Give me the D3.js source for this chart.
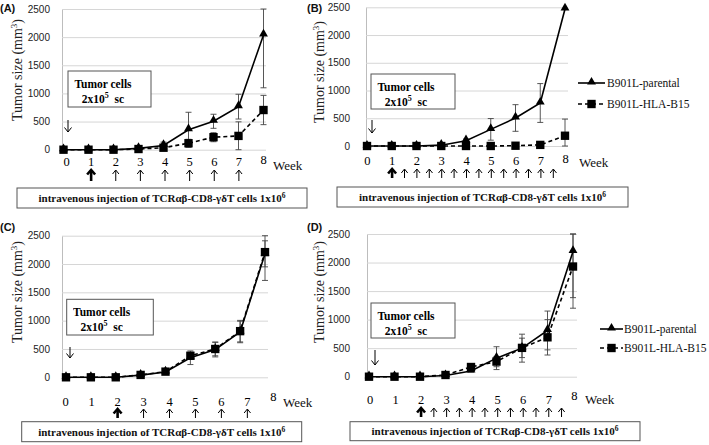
<!DOCTYPE html>
<html>
<head>
<meta charset="utf-8">
<script src="https://cdn.jsdelivr.net/npm/d3@7"></script>
<style>
body { margin: 0; background: #fff; }
svg { display: block; }
svg text { opacity: 0.999; }
</style>
</head>
<body>
<svg id="chart" width="709" height="445"></svg>
<script>
// ---- data ----
const weeks = [0, 1, 2, 3, 4, 5, 6, 7, 8];
const weekLabels = ["0", "1", "2", "3", "4", "5", "6", "7", "8"];
const yTicks = [0, 500, 1000, 1500, 2000, 2500];
const seriesNames = ["B901L-parental", "B901L-HLA-B15"];

// (A)
const aParental = [0, 0, 0, 24, 75, 355, 505, 765, 2040];
const aParentalErr = [0, 0, 0, 10, 60, 310, 125, 220, 940];
const aHla = [0, 0, 0, 12, 35, 115, 222, 245, 705];
const aHlaErr = [0, 0, 0, 8, 20, 70, 80, 250, 260];
const aInjections = [1, 2, 3, 4, 5, 6, 7];

// (B)
const bParental = [0, 0, 0, 15, 95, 300, 505, 775, 2470];
const bParentalErr = [0, 0, 0, 10, 30, 195, 240, 350, 0];
const bHla = [0, 0, 0, 0, 0, 0, 5, 20, 185];
const bHlaErr = [0, 0, 0, 0, 0, 0, 5, 10, 300];
const bInjections = [1, 1.5, 2, 2.5, 3, 3.5, 4, 4.5, 5, 5.5, 6, 6.5, 7, 7.5];

// (C)
const cParental = [0, 0, 0, 38, 95, 345, 490, 800, 2180];
const cParentalErr = [0, 0, 0, 5, 15, 120, 130, 190, 230];
const cHla = [0, 0, 0, 42, 100, 380, 500, 815, 2210];
const cHlaErr = [0, 0, 0, 5, 15, 60, 120, 190, 500];
const cInjections = [2, 3, 4, 5, 6, 7];

// (D)
const dParental = [0, 0, 0, 20, 100, 325, 500, 810, 2195];
const dParentalErr = [0, 0, 0, 10, 20, 200, 245, 340, 810];
const dHla = [0, 0, 0, 30, 170, 265, 505, 690, 1930];
const dHlaErr = [0, 0, 0, 10, 30, 90, 170, 310, 730];
const dInjections = [2, 2.5, 3, 3.5, 4, 4.5, 5, 5.5, 6, 6.5, 7, 7.5];

const serif = "'Liberation Serif', 'Times New Roman', serif";
const sans = "'Liberation Sans', Arial, sans-serif";

const svg = d3.select("#chart");

function series(vals, errs) {
  return weeks.map((w, i) => ({ w: w, v: vals[i], e: errs[i] }));
}

// layout of each panel
const panels = [
  { letter: "(A)", par: series(aParental, aParentalErr), hla: series(aHla, aHlaErr), inj: aInjections,
    xr: [63.5, 263.5], lr: [66.5, 263.5], yr: [149.7, 9], axisX: 62, gridEnd: 266, pad: 12,
    title: [17, 70], letterPos: [0, 12], labelY: 166, raise8: 2, week: [273, 170], arrowY: [181, 170],
    box: [17, 188, 290, 20], tumor: [68, 71, 83, 36], down: [68, 120, 132], legend: null },
  { letter: "(B)", par: series(bParental, bParentalErr), hla: series(bHla, bHlaErr), inj: bInjections,
    xr: [367, 565], lr: [367.3, 565.7], yr: [146, 7.3], axisX: 366, gridEnd: 568, pad: 16,
    title: [319, 72], letterPos: [307, 12], labelY: 165, raise8: 2, week: [579, 167], arrowY: [178, 169],
    box: [337, 187, 291, 20], tumor: [371, 74, 84, 35], down: [372, 120, 133],
    legend: { x1: 578, x2: 605, tx: 607, ys: [83, 104] } },
  { letter: "(C)", par: series(cParental, cParentalErr), hla: series(cHla, cHlaErr), inj: cInjections,
    xr: [66, 265], lr: [65.7, 273.3], yr: [377.3, 235.7], axisX: 62, gridEnd: 268, pad: 12,
    title: [17, 292], letterPos: [0, 231], labelY: 405.5, raise8: 5, week: [283, 407], arrowY: [418, 409],
    box: [21.7, 421.7, 280, 20], tumor: [66.7, 299.3, 86.6, 35.7], down: [70, 347, 358], legend: null },
  { letter: "(D)", par: series(dParental, dParentalErr), hla: series(dHla, dHlaErr), inj: dInjections,
    xr: [369, 573], lr: [370, 574.3], yr: [376.7, 234], axisX: 367, gridEnd: 577, pad: 17,
    title: [319, 292], letterPos: [307, 231], labelY: 404, raise8: 4, week: [585, 404], arrowY: [417, 408],
    box: [350, 421.7, 290, 19], tumor: [371, 303, 84, 35], down: [375, 350, 365],
    legend: { x1: 600, x2: 623, tx: 624, ys: [329, 348] } }
];

const triangle = d3.symbol().type(d3.symbolTriangle).size(34);
const square = d3.symbol().type(d3.symbolSquare).size(70);

function upArrow(g, x, yBot, yTop, thick) {
  const hw = thick ? 4 : 3.2, hh = thick ? 4.5 : 4;
  g.append("line").attr("x1", x).attr("x2", x).attr("y1", yBot).attr("y2", yTop + 0.5)
    .attr("stroke", "#000").attr("stroke-width", thick ? 2.6 : 1);
  g.append("path").attr("d", `M${x - hw},${yTop + hh} L${x},${yTop} L${x + hw},${yTop + hh}`)
    .attr("fill", "none").attr("stroke", "#000").attr("stroke-width", thick ? 2.6 : 1);
}

function drawPanel(p) {
  const g = svg.append("g");
  const x = d3.scaleLinear().domain([0, 8]).range(p.xr);
  const xl = d3.scaleLinear().domain([0, 8]).range(p.lr);
  const y = d3.scaleLinear().domain([0, 2500]).range(p.yr);

  // y axis with gridlines
  const ax = g.append("g").attr("transform", `translate(${p.axisX},0)`)
    .call(d3.axisLeft(y).tickValues(yTicks).tickFormat(d3.format("d"))
      .tickSize(-(p.gridEnd - p.axisX)).tickSizeOuter(0).tickPadding(p.pad));
  ax.select(".domain").attr("stroke", "#bdbdbd");
  ax.selectAll(".tick line").attr("stroke", "#d6d6d6");
  ax.selectAll(".tick text").attr("font-family", sans).attr("font-size", 10).attr("fill", "#222");

  // week labels (the "8" sits a little higher, as in the figure)
  g.selectAll(".wk").data(weeks).join("text")
    .attr("x", d => xl(d)).attr("y", d => p.labelY - (d === 8 ? p.raise8 : 0))
    .attr("text-anchor", "middle").attr("font-family", serif).attr("font-size", 12.5).attr("fill", "#000")
    .text((d, i) => weekLabels[i]);
  g.append("text").attr("x", p.week[0]).attr("y", p.week[1]).text("Week")
    .attr("font-family", serif).attr("font-size", 13).attr("fill", "#111");

  // y title
  const t = g.append("text").attr("transform", `translate(${p.title[0] + 5},${p.title[1]}) rotate(-90)`)
    .attr("text-anchor", "middle").attr("font-family", serif).attr("font-size", 14).attr("fill", "#222");
  t.append("tspan").text("Tumor size (mm");
  t.append("tspan").text("3").attr("font-size", 9).attr("dy", -5.5);
  t.append("tspan").text(")").attr("dy", 5.5);

  // panel letter
  g.append("text").attr("x", p.letterPos[0]).attr("y", p.letterPos[1]).text(p.letter)
    .attr("font-family", sans).attr("font-weight", "bold").attr("font-size", 11).attr("fill", "#111");

  // tumor cells box
  const tb = p.tumor;
  g.append("rect").attr("x", tb[0]).attr("y", tb[1]).attr("width", tb[2]).attr("height", tb[3])
    .attr("fill", "#fff").attr("stroke", "#555").attr("stroke-width", 1);
  g.append("text").attr("x", tb[0] + 35).attr("y", tb[1] + 17).attr("text-anchor", "middle")
    .attr("font-family", serif).attr("font-weight", "bold").attr("font-size", 11.5).text("Tumor cells");
  const t2 = g.append("text").attr("x", tb[0] + 35).attr("y", tb[1] + 32).attr("text-anchor", "middle")
    .attr("font-family", serif).attr("font-weight", "bold").attr("font-size", 11.5);
  t2.append("tspan").text("2x10");
  t2.append("tspan").text("5").attr("font-size", 8).attr("dy", -5);
  t2.append("tspan").text("  sc").attr("dy", 5).attr("xml:space", "preserve");
  // down arrow (tumor injection)
  const dn = p.down;
  g.append("line").attr("x1", dn[0]).attr("x2", dn[0]).attr("y1", dn[1]).attr("y2", dn[2])
    .attr("stroke", "#000").attr("stroke-width", 1);
  g.append("path").attr("d", `M${dn[0] - 3.5},${dn[2] - 4.5} L${dn[0]},${dn[2]} L${dn[0] + 3.5},${dn[2] - 4.5}`)
    .attr("fill", "none").attr("stroke", "#000");

  // error bars
  [p.par, p.hla].forEach(s => {
    s.filter(d => d.e > 0).forEach(d => {
      const hi = y(Math.min(2500, d.v + d.e)), lo = y(Math.max(0, d.v - d.e)), cx = x(d.w);
      g.append("line").attr("x1", cx).attr("x2", cx).attr("y1", hi).attr("y2", lo).attr("stroke", "#444").attr("stroke-width", 0.9);
      [hi, lo].forEach(yy => g.append("line").attr("x1", cx - 3).attr("x2", cx + 3).attr("y1", yy).attr("y2", yy)
        .attr("stroke", "#444").attr("stroke-width", 0.9));
    });
  });

  const line = d3.line().x(d => x(d.w)).y(d => y(d.v));
  g.append("path").datum(p.par).attr("d", line).attr("fill", "none").attr("stroke", "#000").attr("stroke-width", 1.6);
  g.selectAll(".tri").data(p.par).join("path").attr("d", triangle)
    .attr("transform", d => `translate(${x(d.w)},${y(d.v) - 1})`).attr("fill", "#000");
  g.append("path").datum(p.hla).attr("d", line).attr("fill", "none").attr("stroke", "#000")
    .attr("stroke-width", 1.6).attr("stroke-dasharray", "4,3");
  g.selectAll(".sq").data(p.hla).join("path").attr("d", square)
    .attr("transform", d => `translate(${x(d.w)},${y(d.v)})`).attr("fill", "#000");

  // injection arrows
  p.inj.forEach((w, i) => upArrow(g, xl(w), p.arrowY[0], p.arrowY[1], i === 0));

  // bottom box
  const bx = p.box;
  g.append("rect").attr("x", bx[0]).attr("y", bx[1]).attr("width", bx[2]).attr("height", bx[3])
    .attr("fill", "#fff").attr("stroke", "#555").attr("stroke-width", 1);
  const bt = g.append("text").attr("x", bx[0] + bx[2] / 2).attr("y", bx[1] + bx[3] / 2 + 4).attr("text-anchor", "middle")
    .attr("font-family", serif).attr("font-weight", "bold").attr("font-size", 11).attr("fill", "#111");
  bt.append("tspan").text("intravenous injection of TCRαβ-CD8-γδT cells 1x10");
  bt.append("tspan").text("6").attr("font-size", 7.5).attr("dy", -4);

  // legend
  if (p.legend) {
    const L = p.legend;
    [0, 1].forEach(k => {
      const yy = L.ys[k];
      g.append("line").attr("x1", L.x1).attr("x2", L.x2).attr("y1", yy).attr("y2", yy)
        .attr("stroke", "#000").attr("stroke-width", 1.6).attr("stroke-dasharray", k ? "4,3" : null);
      g.append("path").attr("d", k ? square : triangle)
        .attr("transform", `translate(${(L.x1 + L.x2) / 2},${yy - (k ? 0 : 1)})`).attr("fill", "#000");
      g.append("text").attr("x", L.tx).attr("y", yy + 4).text(seriesNames[k])
        .attr("font-family", serif).attr("font-size", 11.5).attr("fill", "#111");
    });
  }
}

panels.forEach(drawPanel);
</script>
</body>
</html>
